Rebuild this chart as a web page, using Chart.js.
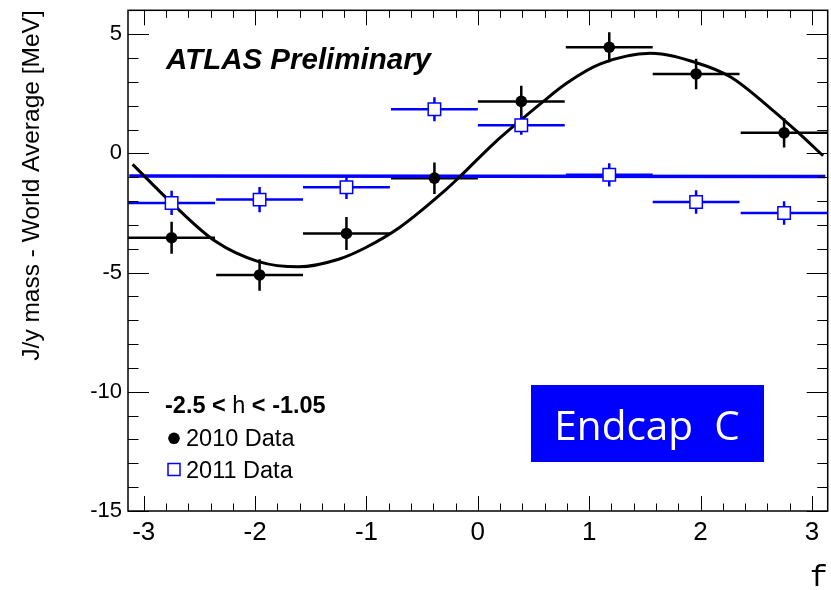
<!DOCTYPE html>
<html>
<head>
<meta charset="utf-8">
<script src="https://cdn.jsdelivr.net/npm/chart.js@4.4.1/dist/chart.umd.min.js"></script>
<style>
  html, body { margin: 0; padding: 0; background: #fff; overflow: hidden; }
  #wrap { width: 831px; height: 590px; overflow: hidden; }
</style>
</head>
<body>
<!-- canvas a bit wider than the window: chart.js keeps ~10px right padding, the extra is cropped -->
<div id="wrap"><canvas id="massChart" width="838" height="590"></canvas></div>
<script>
// phi bins (centres) and half width
const binCenters = [-2.75, -1.96, -1.18, -0.39, 0.39, 1.18, 1.96, 2.75];
const binHalfWidth = 0.39;

// 2010 data: mass shift [MeV] and error
const mass2010 = [-3.54, -5.10, -3.36, -1.04, 2.18, 4.45, 3.33, 0.86];
const err2010 = [0.67, 0.66, 0.69, 0.66, 0.66, 0.63, 0.64, 0.61];

// 2011 data
const mass2011 = [-2.08, -1.94, -1.42, 1.85, 1.18, -0.90, -2.04, -2.50];
const err2011 = [0.51, 0.53, 0.49, 0.50, 0.40, 0.49, 0.49, 0.49];

// fitted curves
const fit2010X = [-3.10, -2.75, -2.36, -1.97, -1.61, -1.25, -1.01, -0.70, -0.31, -0.16, 0.14, 0.40, 0.58, 0.80, 1.10, 1.55, 1.97, 2.27, 2.63, 2.87, 3.10];
const fit2010Y = [-0.46, -2.08, -3.68, -4.54, -4.76, -4.44, -3.96, -3.10, -1.62, -0.97, 0.40, 1.45, 2.15, 2.95, 3.75, 4.20, 3.79, 3.20, 1.88, 0.90, -0.10];
const fit2011X = [-3.13, 3.12];
const fit2011Y = [-0.95, -0.97];

// tick labels
const xTickLabels = [-3, -2, -1, 0, 1, 2, 3];
const yTickLabels = [-15, -10, -5, 0, 5];

const toPoints = (xs, ys) => xs.map((v, i) => ({ x: v, y: ys[i] }));

// error bars under the markers
const errorBars = {
    id: 'errorBars',
    beforeDatasetsDraw(chart) {
        const { ctx, scales: { x, y } } = chart;
        const drawSet = (vals, errs, color) => {
            ctx.strokeStyle = color;
            ctx.lineWidth = 2.5;
            binCenters.forEach((c, i) => {
                const px = x.getPixelForValue(c);
                const py = y.getPixelForValue(vals[i]);
                ctx.beginPath();
                ctx.moveTo(x.getPixelForValue(c - binHalfWidth), py);
                ctx.lineTo(x.getPixelForValue(c + binHalfWidth), py);
                ctx.moveTo(px, y.getPixelForValue(vals[i] - errs[i]));
                ctx.lineTo(px, y.getPixelForValue(vals[i] + errs[i]));
                ctx.stroke();
            });
        };
        ctx.save();
        drawSet(mass2010, err2010, '#000000');
        drawSet(mass2011, err2011, '#0000ff');
        ctx.restore();
    }
};

// ROOT style frame with inside ticks on all four sides
const frameTicks = {
    id: 'frameTicks',
    afterDraw(chart) {
        const { ctx, chartArea: a, scales: { x, y } } = chart;
        ctx.save();
        ctx.strokeStyle = '#000';
        ctx.lineWidth = 1;
        ctx.beginPath();
        for (let k = -16; k <= 16; k++) {
            const v = k / 5;
            if (v < x.min || v > x.max) continue;
            const len = (k % 5 === 0) ? 15 : 7.5;
            const px = Math.round(x.getPixelForValue(v)) + 0.5;
            ctx.moveTo(px, a.bottom); ctx.lineTo(px, a.bottom - len);
            ctx.moveTo(px, a.top); ctx.lineTo(px, a.top + len);
        }
        for (let v = -15; v <= 6; v++) {
            const len = (v % 5 === 0) ? 21 : 10.5;
            const py = Math.round(y.getPixelForValue(v)) + 0.5;
            ctx.moveTo(a.left, py); ctx.lineTo(a.left + len, py);
            ctx.moveTo(a.right, py); ctx.lineTo(a.right - len, py);
        }
        ctx.stroke();
        ctx.lineWidth = 1.5;
        ctx.strokeRect(a.left, a.top, a.right - a.left, a.bottom - a.top);
        ctx.restore();
    }
};

// labels, legend and the Endcap box
const annotations = {
    id: 'annotations',
    afterDraw(chart) {
        const { ctx } = chart;
        ctx.save();
        ctx.fillStyle = '#000';
        ctx.textBaseline = 'alphabetic';
        ctx.textAlign = 'left';
        ctx.font = 'italic bold 29.5px "Liberation Sans", Arial, sans-serif';
        ctx.fillText('ATLAS Preliminary', 166, 69);

        // eta range
        let tx = 165;
        const parts = [['-2.5 < ', 'bold'], ['h', 'normal'], [' < -1.05', 'bold']];
        parts.forEach(([t, w]) => {
            ctx.font = w + ' 23.5px "Liberation Sans", Arial, sans-serif';
            ctx.fillText(t, tx, 413);
            tx += ctx.measureText(t).width;
        });

        ctx.font = '23.5px "Liberation Sans", Arial, sans-serif';
        ctx.fillText('2010 Data', 186, 446);
        ctx.fillText('2011 Data', 186, 477.5);
        ctx.beginPath();
        ctx.arc(174, 438.3, 5.8, 0, Math.PI * 2);
        ctx.fill();
        ctx.strokeStyle = '#0000ff';
        ctx.lineWidth = 1.5;
        ctx.fillStyle = '#fff';
        ctx.fillRect(168, 463.5, 12, 12);
        ctx.strokeRect(168, 463.5, 12, 12);

        ctx.fillStyle = '#0000ff';
        ctx.fillRect(531, 385, 233, 77);
        ctx.fillStyle = '#fff';
        ctx.textAlign = 'center';
        ctx.font = '40.5px "Open Sans", "Noto Sans", sans-serif';
        ctx.fillText('Endcap  C', 647, 440);
        ctx.restore();
    }
};

new Chart(document.getElementById('massChart').getContext('2d'), {
    type: 'scatter',
    data: {
        datasets: [
            {
                label: '2011 Data',
                data: toPoints(binCenters, mass2011),
                pointStyle: 'rect',
                pointRadius: 8.8,
                pointBackgroundColor: '#ffffff',
                pointBorderColor: '#0000ff',
                pointBorderWidth: 1.5,
                order: 1
            },
            {
                label: '2010 Data',
                data: toPoints(binCenters, mass2010),
                pointStyle: 'circle',
                pointRadius: 5.8,
                pointBackgroundColor: '#000000',
                pointBorderColor: '#000000',
                pointBorderWidth: 0,
                order: 2
            },
            {
                label: '2010 fit',
                data: toPoints(fit2010X, fit2010Y),
                showLine: true,
                borderColor: '#000000',
                borderWidth: 3,
                cubicInterpolationMode: 'monotone',
                pointRadius: 0,
                order: 3
            },
            {
                label: '2011 fit',
                data: toPoints(fit2011X, fit2011Y),
                showLine: true,
                borderColor: '#0000ff',
                borderWidth: 3.5,
                pointRadius: 0,
                order: 4
            }
        ]
    },
    options: {
        responsive: false,
        animation: false,
        layout: { padding: { top: 6, right: 10, left: 0, bottom: 0 } },
        plugins: {
            legend: { display: false },
            tooltip: { enabled: false }
        },
        scales: {
            x: {
                type: 'linear',
                min: -Math.PI,
                max: Math.PI,
                afterBuildTicks: (scale) => { scale.ticks = xTickLabels.map(v => ({ value: v })); },
                afterFit: (scale) => {
                    scale.height = 79;
                    scale.paddingLeft = 0;
                    scale.paddingRight = 0;
                },
                grid: { display: false, drawTicks: false },
                border: { display: false },
                ticks: {
                    color: '#000',
                    padding: 6,
                    maxRotation: 0,
                    font: { family: '"Liberation Sans", Arial, sans-serif', size: 26 }
                },
                title: {
                    display: true,
                    text: 'f',
                    align: 'end',
                    color: '#000',
                    padding: 0,
                    font: { family: '"Liberation Mono", "DejaVu Sans Mono", monospace', size: 30, lineHeight: 0.8 }
                }
            },
            y: {
                type: 'linear',
                min: -15,
                max: 6,
                afterBuildTicks: (scale) => { scale.ticks = yTickLabels.map(v => ({ value: v })); },
                afterFit: (scale) => {
                    scale.width = 128;
                    scale.paddingTop = 0;
                    scale.paddingBottom = 0;
                },
                grid: { display: false, drawTicks: false },
                border: { display: false },
                ticks: {
                    color: '#000',
                    padding: 6,
                    font: { family: '"Liberation Sans", Arial, sans-serif', size: 22 }
                },
                title: {
                    display: true,
                    text: 'J/y mass - World Average [MeV]',
                    align: 'end',
                    color: '#000',
                    padding: { top: 18, bottom: 0 },
                    font: { family: '"Liberation Sans", Arial, sans-serif', size: 24.5 }
                }
            }
        }
    },
    plugins: [errorBars, frameTicks, annotations]
});
</script>
</body>
</html>
